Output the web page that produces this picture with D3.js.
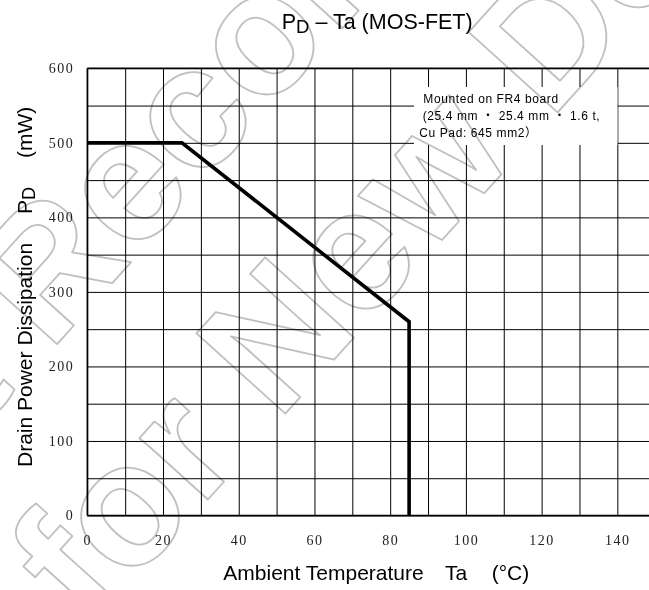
<!DOCTYPE html>
<html><head><meta charset="utf-8">
<script src="https://cdn.jsdelivr.net/npm/d3@7"></script>
<style>
html,body{margin:0;padding:0;background:#fff;}
svg{display:block;}
</style></head>
<body>
<script>
// ---- data ----
const temps = [0, 25, 85, 85];          // Ta (°C)
const power = [500, 500, 260, 0];       // PD (mW)
const xTicks = [0, 20, 40, 60, 80, 100, 120, 140];
const yTicks = [0, 100, 200, 300, 400, 500, 600];
const xGrid = d3.range(0, 151, 10);
const yGrid = d3.range(0, 601, 50);
const titleMain = "P", titleSub = "D", titleRest = " – Ta (MOS-FET)";
const xTitleParts = ["Ambient Temperature", "Ta", "(°C)"];
const yTitleParts = ["Drain Power Dissipation", "P", "D", "(mW)"];
const noteLines = ["Mounted on FR4 board", "(25.4 mm  ・  25.4 mm  ・  1.6 t,", "Cu Pad: 645 mm2）"];
const watermark = ["Not Recommended", "for New Design"];

const W = 649, H = 590;
const x = d3.scaleLinear().domain([0, 150]).range([87.3, 655.2]);
const y = d3.scaleLinear().domain([0, 600]).range([515.5, 68.3]);

const svg = d3.select("body").append("svg").attr("width", W).attr("height", H);

// grid
const grid = svg.append("g");
grid.append("g").attr("transform", `translate(0,${y(600)})`)
  .call(d3.axisBottom(x).tickValues(xGrid).tickSize(y(0) - y(600)).tickFormat(""))
  .call(g => g.select(".domain").remove())
  .call(g => g.selectAll("line").attr("stroke", "#000").attr("stroke-width", 1));
grid.append("g").attr("transform", `translate(${x(0)},0)`)
  .call(d3.axisRight(y).tickValues(yGrid).tickSize(x(150) - x(0)).tickFormat(""))
  .call(g => g.select(".domain").remove())
  .call(g => g.selectAll("line").attr("stroke", "#000").attr("stroke-width", 1));
// frame emphasis
svg.append("line").attr("x1", x(0)).attr("x2", x(0)).attr("y1", y(600)).attr("y2", y(0)).attr("stroke", "#000").attr("stroke-width", 1.5);
svg.append("line").attr("x1", x(0)).attr("x2", x(150)).attr("y1", y(600)).attr("y2", y(600)).attr("stroke", "#000").attr("stroke-width", 1.5);
svg.append("line").attr("x1", x(0)).attr("x2", x(150)).attr("y1", y(0)).attr("y2", y(0)).attr("stroke", "#000").attr("stroke-width", 1.4);

// note box
svg.append("rect").attr("x", 414).attr("y", 87).attr("width", 203.5).attr("height", 58).attr("fill", "#fff");
const note = svg.append("text").attr("font-family", "'Liberation Sans', 'Noto Sans CJK JP', sans-serif")
  .attr("font-size", 12).attr("letter-spacing", 0.6).attr("fill", "#000");
const noteX = [423.3, 422.7, 419.3], noteY = [102.7, 119.5, 137.3];
noteLines.forEach((t, i) => note.append("tspan").attr("x", noteX[i]).attr("y", noteY[i]).text(t));

// watermark
const wm = svg.append("g").attr("transform", "translate(434,88) rotate(-47.9)")
  .style("mix-blend-mode", "multiply");
watermark.forEach((t, i) => wm.append("text").attr("x", 0).attr("y", i === 0 ? -108 : 108)
  .attr("text-anchor", "middle").attr("font-family", "'Liberation Sans', Arial, sans-serif")
  .attr("font-weight", "bold").attr("font-size", 174).attr("fill", "none")
  .attr("stroke", "#c0c0c0").attr("stroke-width", 1.8).attr("stroke-linejoin", "round").text(t));

// curve
svg.append("path").datum(temps.map((t, i) => [t, power[i]]))
  .attr("d", d3.line().x(d => x(d[0])).y(d => y(d[1])))
  .attr("fill", "none").attr("stroke", "#000").attr("stroke-width", 3.6).attr("stroke-linejoin", "miter");

// tick labels
const tickFont = "'Liberation Serif', 'Times New Roman', serif";
svg.append("g").attr("transform", `translate(0,${y(0)})`)
  .call(d3.axisBottom(x).tickValues(xTicks).tickSize(0).tickPadding(19.5).tickFormat(d3.format("d")))
  .call(g => g.select(".domain").remove())
  .call(g => g.selectAll("text").attr("font-family", tickFont).attr("font-size", 14)
    .attr("letter-spacing", 1.5).attr("fill", "#222"));
svg.append("g").attr("transform", `translate(${x(0)},0)`)
  .call(d3.axisLeft(y).tickValues(yTicks).tickSize(0).tickPadding(13.1).tickFormat(d3.format("d")))
  .call(g => g.select(".domain").remove())
  .call(g => g.selectAll("text").attr("font-family", tickFont).attr("font-size", 14)
    .attr("letter-spacing", 1.5).attr("fill", "#222"));

// title
const sans = "'Liberation Sans', Arial, sans-serif";
const title = svg.append("text").attr("x", 281.7).attr("y", 28.5).attr("font-family", sans)
  .attr("font-size", 21.5).attr("fill", "#000");
title.append("tspan").text(titleMain);
title.append("tspan").attr("font-size", 18.5).attr("dy", 4).text(titleSub);
title.append("tspan").attr("dy", -4).text(titleRest);

// x title
const xtX = [223.3, 445, 491.7];
xTitleParts.forEach((t, i) => svg.append("text").attr("x", xtX[i]).attr("y", 580)
  .attr("font-family", sans).attr("font-size", 21).attr("fill", "#000").text(t));

// y title (rotated)
const yt = svg.append("g").attr("transform", "translate(31.5,0) rotate(-90)");
yt.append("text").attr("x", -467).attr("y", 0).attr("font-family", sans).attr("font-size", 21)
  .text(yTitleParts[0]);
const pd = yt.append("text").attr("x", -214).attr("y", 0).attr("font-family", sans).attr("font-size", 21);
pd.append("tspan").text(yTitleParts[1]);
pd.append("tspan").attr("font-size", 18).attr("dy", 3.8).text(yTitleParts[2]);
yt.append("text").attr("x", -106.7).attr("y", 0).attr("text-anchor", "end").attr("font-family", sans)
  .attr("font-size", 21).text(yTitleParts[3]);
</script>
</body></html>
